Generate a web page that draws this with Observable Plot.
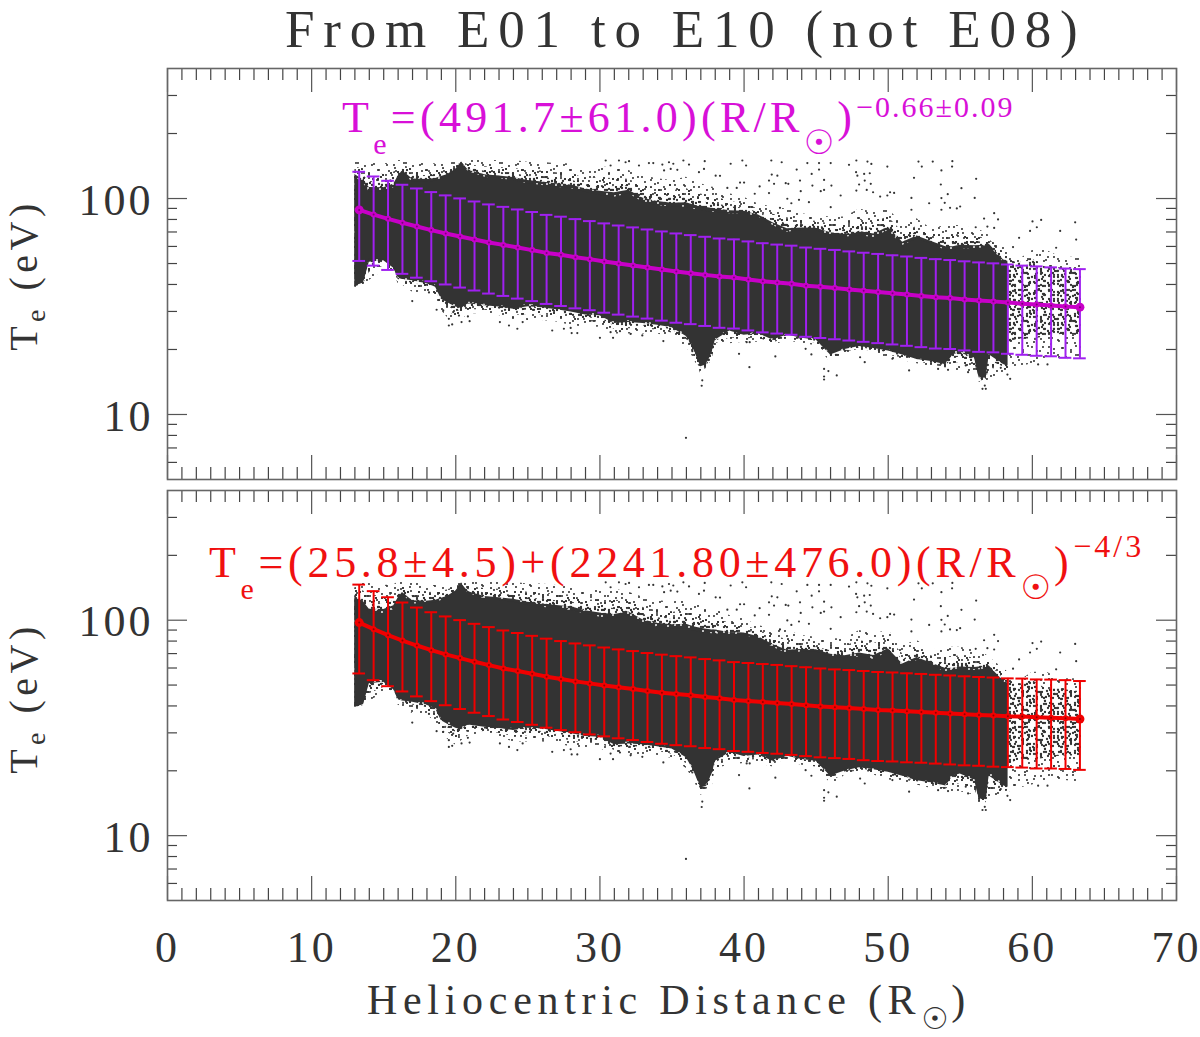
<!DOCTYPE html>
<html><head><meta charset="utf-8">
<script src="https://cdn.jsdelivr.net/npm/d3@7"></script>
<script src="https://cdn.jsdelivr.net/npm/@observablehq/plot@0.6"></script>
<style>
html,body{margin:0;padding:0;background:#fff}
#page{position:relative;width:1200px;height:1037px;overflow:hidden;font-family:"Liberation Serif",serif;color:#333}
.t{position:absolute;white-space:nowrap;line-height:1}
.t .sub,.t .sup{position:relative}
.sun{font-family:"DejaVu Sans",sans-serif}
</style></head><body>
<div id="page">
<svg width="0" height="0" style="position:absolute"><defs id="defs"></defs></svg>
</div>
<script>
// Bin centres of the fitted curve (solar radii)
const binR=[13.3,14.3,15.3,16.3,17.3,18.3,19.3,20.3,21.3,22.3,23.3,24.3,25.3,26.3,27.3,28.3,29.3,30.3,31.3,32.3,33.3,34.3,35.3,36.3,37.3,38.3,39.3,40.3,41.3,42.3,43.3,44.3,45.3,46.3,47.3,48.3,49.3,50.3,51.3,52.3,53.3,54.3,55.3,56.3,57.3,58.3,59.3,60.3,61.3,62.3,63.3];
// Top panel: mean and error-bar limits (eV)
const meanA=[88.6,84.3,80.5,77.2,74.2,71.4,68.9,66.7,64.6,62.6,61.0,59.3,57.7,56.0,54.9,53.5,52.4,51.1,50.0,49.0,47.9,46.9,45.9,45.1,44.3,43.5,43.1,42.2,41.4,40.8,40.3,39.5,39.0,38.5,37.9,37.4,36.9,36.4,35.9,35.4,34.9,34.6,34.1,33.7,33.4,33.0,32.6,32.3,32.0,31.6,31.4];
const upperA=[133,126.5,120.8,115.8,111.3,107.1,103.4,100.1,96.9,93.9,91.5,89.0,86.6,84.0,82.4,80.3,78.6,76.7,75.0,73.5,71.9,70.4,68.9,67.7,66.5,65.3,64.7,63.3,62.1,61.2,60.5,59.3,58.5,57.8,56.9,56.1,55.4,54.6,53.9,53.1,52.4,51.9,51.2,50.6,50.1,49.5,48.9,48.5,48.0,47.4,47.1];
const lowerA=[51.4,48.9,46.7,44.8,43.0,41.4,40.0,38.7,37.5,36.3,35.4,34.4,33.5,32.5,31.8,31.0,30.4,29.6,29.0,28.4,27.8,27.2,26.6,26.2,25.7,25.2,25.0,24.5,24.0,23.7,23.4,22.9,22.6,22.3,22.0,21.7,21.4,21.1,20.8,20.5,20.2,20.1,19.8,19.5,19.4,19.1,18.9,18.7,18.6,18.3,18.2];
// Bottom panel: mean and error-bar limits (eV)
const meanB=[97.5,90.9,85.2,80.5,76.3,72.6,69.4,66.7,64.1,61.9,59.7,58.1,56.4,54.7,53.3,52.0,50.9,49.8,48.8,47.9,46.9,46.1,45.4,44.8,44.0,43.4,42.6,42.2,41.7,41.3,40.8,40.3,39.8,39.4,39.1,38.7,38.3,38.1,37.8,37.5,37.2,36.9,36.6,36.3,36.1,35.8,35.7,35.4,35.3,35.1,34.8];
const upperB=[146.3,136.4,127.8,120.8,114.5,108.9,104.1,100.1,96.2,92.9,89.6,87.2,84.6,82.1,80.0,78.0,76.4,74.7,73.2,71.9,70.4,69.2,68.1,67.2,66.0,65.1,63.9,63.3,62.6,62.0,61.2,60.5,59.7,59.1,58.7,58.1,57.5,57.2,56.7,56.3,55.8,55.4,54.9,54.5,54.2,53.7,53.6,53.1,53.0,52.7,52.2];
const lowerB=[56.6,52.7,49.4,46.7,44.3,42.1,40.3,38.7,37.2,35.9,34.6,33.7,32.7,31.7,30.9,30.2,29.5,28.9,28.3,27.8,27.2,26.7,26.3,26.0,25.5,25.2,24.7,24.5,24.2,24.0,23.7,23.4,23.1,22.9,22.7,22.4,22.2,22.1,21.9,21.8,21.6,21.4,21.2,21.1,20.9,20.8,20.7,20.5,20.5,20.4,20.2];
// Point cloud outline (log10 of Te)
const cloudR=[13,13.6,14,15,15.7,16,16.3,17,18,18.6,19,19.4,20,20.4,20.8,21,22,23,24,25,26,27,28,29,30,31,32,33,34,35,36,36.5,37,37.4,37.8,38,39,40,41,42,43,44,45,46,46.5,47,48,49,50,51,52,53,54,54.5,55,56,56.3,56.8,57,58,58.3,59,60,61,62,63,63.4];
const coreTop=[2.10,2.07,2.03,2.03,2.05,2.09,2.12,2.075,2.075,2.08,2.091,2.10,2.130,2.168,2.13,2.122,2.099,2.091,2.083,2.068,2.060,2.052,2.045,2.029,2.014,2.006,2.022,1.983,1.968,1.960,1.960,1.95,1.944,1.94,1.937,1.937,1.929,1.929,1.914,1.875,1.844,1.852,1.852,1.829,1.825,1.821,1.829,1.818,1.852,1.782,1.813,1.790,1.759,1.76,1.767,1.767,1.77,1.77,1.782,1.705,1.70];
const coreBottom=[1.597,1.61,1.72,1.72,1.68,1.635,1.63,1.628,1.613,1.60,1.543,1.53,1.512,1.50,1.52,1.52,1.51,1.505,1.497,1.51,1.505,1.495,1.485,1.47,1.466,1.43,1.435,1.43,1.42,1.41,1.37,1.31,1.227,1.235,1.30,1.35,1.397,1.373,1.381,1.35,1.373,1.358,1.35,1.281,1.295,1.304,1.32,1.31,1.30,1.28,1.258,1.25,1.235,1.29,1.30,1.27,1.173,1.173,1.296,1.24,1.227];
const fringeTop=[2.176,2.176,2.17,2.161,2.165,2.176,2.176,2.176,2.161,2.161,2.161,2.165,2.168,2.176,2.176,2.176,2.176,2.176,2.176,2.168,2.168,2.161,2.161,2.13,2.145,2.145,2.13,2.106,2.091,2.083,2.099,2.08,2.068,2.06,2.052,2.052,2.022,2.006,1.975,1.96,1.952,1.929,1.921,1.914,1.914,1.914,1.952,1.937,1.952,1.883,1.906,1.86,1.875,1.875,1.875,1.86,1.855,1.84,1.829,1.775,1.76,1.713,1.759,1.759,1.728,1.728,1.744];
const fringeBottom=[1.586,1.60,1.62,1.667,1.66,1.605,1.60,1.566,1.559,1.53,1.481,1.45,1.42,1.44,1.46,1.466,1.466,1.458,1.435,1.435,1.435,1.428,1.412,1.404,1.404,1.373,1.373,1.373,1.373,1.358,1.312,1.26,1.188,1.20,1.23,1.312,1.327,1.335,1.335,1.319,1.343,1.327,1.319,1.242,1.25,1.281,1.289,1.281,1.258,1.25,1.235,1.219,1.204,1.204,1.204,1.188,1.15,1.14,1.165,1.181,1.20,1.219,1.235,1.258,1.258,1.25,1.26];
const tailR=[58.3,59,60,61,62,63,63.4];
const tailTop=[1.72,1.70,1.72,1.68,1.68,1.67,1.67];
const tailBottom=[1.33,1.35,1.35,1.36,1.37,1.37,1.37];
// Isolated points: R and log10 of Te
const looseR=[30.40,30.74,31.32,31.78,32.02,33.40,33.70,32.71,34.33,34.79,35.09,34.91,34.45,35.37,35.79,36.18,37.27,37.22,36.87,38.03,38.33,39.07,39.88,40.14,41.89,42.61,43.65,44.39,45.20,46.01,45.20,44.69,41.92,42.31,41.73,42.08,42.89,43.07,43.88,45.55,44.74,46.06,39.72,40.00,38.84,39.49,41.08,41.73,40.74,43.93,45.32,46.70,43.00,43.28,43.81,44.50,46.01,47.28,45.55,42.49,
47.79,48.56,48.83,49.94,52.10,52.33,53.09,54.45,54.43,53.69,51.79,56.10,53.65,55.08,47.77,48.33,48.72,47.86,48.37,48.79,47.98,48.51,48.95,47.79,50.13,50.41,49.44,49.94,51.61,54.13,56.00,53.69,52.84,53.92,51.61,53.69,54.29,54.76,54.99,57.35,56.65,57.62,60.01,60.61,62.97,61.93,59.84,60.31,59.08,63.04,61.65,58.66,57.35,56.88,56.07,
16.98,18.14,18.67,19.13,19.82,19.52,20.22,20.84,20.96,20.40,19.52,19.75,23.06,23.69,24.27,24.64,26.69,27.50,28.04,28.43,27.97,30.00,30.74,31.39,30.91,32.13,32.94,34.40,36.41,37.10,37.06,35.97,39.65,40.37,42.17,45.55,45.55,45.55,45.85,46.43,44.67,44.27,40.18,40.39,48.37,48.05,51.45,50.29,53.46,54.15,55.38,55.54,56.77,56.54,56.70,58.46,58.27,57.81,60.40,61.05];
const looseLog=[2.176,2.153,2.176,2.168,2.173,2.164,2.164,2.153,2.157,2.168,2.161,2.137,2.130,2.133,2.176,2.157,2.173,2.137,2.122,2.106,2.105,2.161,2.176,2.153,2.176,2.168,2.134,2.164,2.164,2.164,2.134,2.114,2.111,2.106,2.083,2.068,2.071,2.068,2.083,2.086,2.060,2.060,2.074,2.074,2.049,2.049,2.056,2.025,2.022,2.034,2.034,2.014,1.999,1.978,1.994,1.983,1.960,2.156,2.040,1.957,
2.176,2.171,2.160,2.148,2.171,2.148,2.171,2.173,2.148,2.130,2.096,2.091,2.065,2.048,2.122,2.114,2.117,2.106,2.083,2.068,2.065,2.040,2.029,2.037,2.029,2.026,2.009,2.014,2.003,2.020,2.003,2.002,1.978,1.980,1.948,1.948,1.957,1.954,1.963,1.932,1.907,1.903,1.894,1.901,1.890,1.850,1.850,1.867,1.818,1.810,1.772,1.775,1.864,1.870,1.867,
1.525,1.565,1.485,1.482,1.474,1.443,1.458,1.454,1.432,1.428,1.412,1.417,1.428,1.412,1.397,1.428,1.389,1.397,1.377,1.377,1.401,1.355,1.381,1.386,1.355,1.373,1.366,1.340,1.293,1.158,1.133,0.892,1.281,1.219,1.269,1.211,1.176,1.162,1.201,1.181,1.278,1.304,1.335,1.335,1.242,1.265,1.204,1.258,1.211,1.207,1.227,1.196,1.119,1.119,1.134,1.165,1.185,1.216,1.232,1.232];
// Ticks and labels
const xMajor=[0,10,20,30,40,50,60,70];
const xMinor=[1,2,3,4,5,6,7,8,9,11,12,13,14,15,16,17,18,19,21,22,23,24,25,26,27,28,29,31,32,33,34,35,36,37,38,39,41,42,43,44,45,46,47,48,49,51,52,53,54,55,56,57,58,59,61,62,63,64,65,66,67,68,69];
const yMajor=[10,100];
const yMinor=[6,7,8,9,20,30,40,50,60,70,80,90,200,300];
const titleText="From E01 to E10 (not E08)";

// Stipple texture tiles for the speckled fringe of the cloud
const stip=[[3,5],[11,2],[19,7],[27,3],[36,6],[44,2],[7,12],[15,14],[24,11],[32,15],[41,11],[2,19],[10,21],[20,19],[29,22],[38,20],[46,17],[5,27],[14,28],[23,26],[33,29],[42,26],[9,34],[18,33],[27,36],[37,35],[45,33],[3,41],[13,42],[22,43],[31,40],[40,43],[7,46],[17,47],[35,46],[46,41]];
const holes=[[4,9],[16,4],[29,8],[41,14],[9,22],[22,17],[35,26],[46,31],[14,37],[28,41],[40,39],[3,44]];
const dot=([x,y],r,c)=>`<circle cx="${x}" cy="${y}" r="${r}" fill="${c}"/>`;
const turns=[([x,y])=>[x,y],([x,y])=>[y,48-x],([x,y])=>[48-y,x],([x,y])=>[48-x,48-y],([x,y])=>[y,x],([x,y])=>[48-y,48-x]];
const spots=(list,n,r,c)=>turns.slice(0,n).map(f=>list.map(p=>dot(f(p),r,c)).join("")).join("");
document.getElementById("defs").innerHTML=
 `<pattern id="sparse" width="48" height="48" patternUnits="userSpaceOnUse">${spots(stip,2,1.05,"#333")}</pattern>`+
 `<pattern id="mid" width="48" height="48" patternUnits="userSpaceOnUse">${spots(stip,4,1.05,"#333")}</pattern>`+
 `<pattern id="thick" width="48" height="48" patternUnits="userSpaceOnUse">${spots(stip,6,1.15,"#333")}</pattern>`+
 `<pattern id="dense" width="48" height="48" patternUnits="userSpaceOnUse"><rect width="48" height="48" fill="#333"/>${spots(holes,5,.95,"#fff")}</pattern>`;

const Te=l=>Math.pow(10,l);
const band=t=>coreTop.map((l,i)=>({R:cloudR[i],top:Te(l*(1-t)+fringeTop[i]*t),bottom:Te(coreBottom[i]*(1-t)+fringeBottom[i]*t)}));
const fringe=cloudR.map((R,i)=>({R,top:Te(fringeTop[i]),bottom:Te(fringeBottom[i])}));
const core=band(0), inner=band(.15), thick=band(.35), halo=band(.62);
const tail=tailR.map((R,i)=>({R,top:Te(tailTop[i]),bottom:Te(tailBottom[i])}));
const loose=looseR.map((R,i)=>({R,T:Te(looseLog[i])}));

const font='"Liberation Serif",serif';
function panel({mean,upper,lower,lineColor,barColor,centre,top,height,marginTop,marginBottom,xAxis}){
  const rows=binR.map((R,i)=>({R,m:mean[i],u:upper[i],l:lower[i]}));
  const ends=[rows[0],rows[rows.length-1]];
  const W=1009,H=height-marginTop-marginBottom;
  const marks=[
    Plot.areaY(fringe,{x:"R",y1:"bottom",y2:"top",fill:"url(#sparse)"}),
    Plot.areaY(halo,{x:"R",y1:"bottom",y2:"top",fill:"url(#mid)"}),
    Plot.areaY(thick,{x:"R",y1:"bottom",y2:"top",fill:"url(#thick)"}),
    Plot.areaY(tail,{x:"R",y1:"bottom",y2:"top",fill:"url(#thick)"}),
    Plot.areaY(inner,{x:"R",y1:"bottom",y2:"top",fill:"url(#dense)"}),
    Plot.areaY(core,{x:"R",y1:"bottom",y2:"top",fill:"#333"}),
    Plot.dot(loose,{x:"R",y:"T",r:1.1,fill:"#333"}),
    Plot.ruleX(rows,{x:"R",y1:"l",y2:"u",stroke:barColor,strokeWidth:2}),
    Plot.ruleY(rows,{y:"u",x1:d=>d.R-.44,x2:d=>d.R+.44,stroke:barColor,strokeWidth:2}),
    Plot.ruleY(rows,{y:"l",x1:d=>d.R-.44,x2:d=>d.R+.44,stroke:barColor,strokeWidth:2}),
    Plot.line(rows,{x:"R",y:"m",stroke:lineColor,strokeWidth:4}),
    Plot.dot(rows,{x:"R",y:"m",r:3,fill:lineColor}),
    Plot.dot(ends,{x:"R",y:"m",r:4.5,fill:lineColor}),
    Plot.dot(rows,{x:"R",y:"m",r:1,fill:centre}),
    Plot.tickX(xMinor,{x:d=>d,insetBottom:H-12,stroke:"#444",strokeWidth:1.2}),
    Plot.tickX(xMinor,{x:d=>d,insetTop:H-12,stroke:"#444",strokeWidth:1.2}),
    Plot.tickX(xMajor,{x:d=>d,insetBottom:H-24,stroke:"#555",strokeWidth:1.2}),
    Plot.tickX(xMajor,{x:d=>d,insetTop:H-24,stroke:"#555",strokeWidth:1.2}),
    Plot.tickY(yMinor,{y:d=>d,insetRight:W-10,stroke:"#444",strokeWidth:1.2}),
    Plot.tickY(yMinor,{y:d=>d,insetLeft:W-10,stroke:"#444",strokeWidth:1.2}),
    Plot.tickY(yMajor,{y:d=>d,insetRight:W-20,stroke:"#555",strokeWidth:1.2}),
    Plot.tickY(yMajor,{y:d=>d,insetLeft:W-20,stroke:"#555",strokeWidth:1.2}),
    Plot.frame({stroke:"#666",strokeWidth:1.6}),
    Plot.axisY({ticks:yMajor,tickSize:0,tickPadding:14,dy:2,tickFormat:d=>String(d),fontSize:44,label:null,fill:"#333"})
  ];
  if(xAxis) marks.push(Plot.axisX({ticks:xMajor,tickSize:0,tickPadding:30,fontSize:44,label:null,fill:"#333"}));
  const svg=Plot.plot({
    width:1200,height,marginLeft:167,marginRight:24,marginTop,marginBottom,
    x:{domain:[0,70],axis:null},
    y:{type:"log",domain:[5,400],axis:null},
    style:{position:"absolute",left:"0",top:top+"px",fontFamily:font,overflow:"visible",background:"transparent",letterSpacing:"3px"},
    marks
  });
  document.getElementById("page").appendChild(svg);
}
panel({mean:meanA,upper:upperA,lower:lowerA,lineColor:"#c800c8",barColor:"#a020f0",centre:"#7a007a",top:0,height:485,marginTop:68,marginBottom:6,xAxis:false});
panel({mean:meanB,upper:upperB,lower:lowerB,lineColor:"#f00000",barColor:"#f00000",centre:"#900000",top:485,height:552,marginTop:5,marginBottom:137,xAxis:true});

// Text overlays
function text(html,css){const d=document.createElement("div");d.className="t";d.innerHTML=html;d.style.cssText=css;document.getElementById("page").appendChild(d);}
const sub=(s,o,fs)=>`<span class="sub" style="top:${o}px;font-size:${fs}px">${s}</span>`;
const SUN=(o,fs=34)=>`<span class="sub sun" style="top:${o}px;font-size:${fs}px;letter-spacing:3px">☉</span>`;
text(titleText,"left:285px;top:3px;font-size:53px;letter-spacing:8.8px;color:#333");
const TE='T'+sub('e',22,30);
text(TE+`=(491.7±61.0)(R/R${SUN(22)})`+`<span class="sup" style="top:-15px;font-size:30px;letter-spacing:2px">−0.66±0.09</span>`,"left:342px;top:96px;font-size:44px;letter-spacing:4.3px;color:#d810d8");
text(TE+`=(25.8±4.5)+(2241.80±476.0)(R/R${SUN(22)})`+`<span class="sup" style="top:-20px;font-size:32px;letter-spacing:3px">−4/3</span>`,"left:209px;top:541px;font-size:44px;letter-spacing:4.7px;color:#f01010");
text(`Heliocentric Distance (R${SUN(15,30)})`,"left:367px;top:979px;font-size:42px;letter-spacing:5.7px;color:#333");
text(`T${sub('e',8,28)} (eV)`,"left:24px;top:275px;font-size:40px;letter-spacing:4.5px;color:#333;transform:translate(-50%,-50%) rotate(-90deg)");
text(`T${sub('e',8,28)} (eV)`,"left:24px;top:698px;font-size:40px;letter-spacing:4.5px;color:#333;transform:translate(-50%,-50%) rotate(-90deg)");
</script>
</body></html>
